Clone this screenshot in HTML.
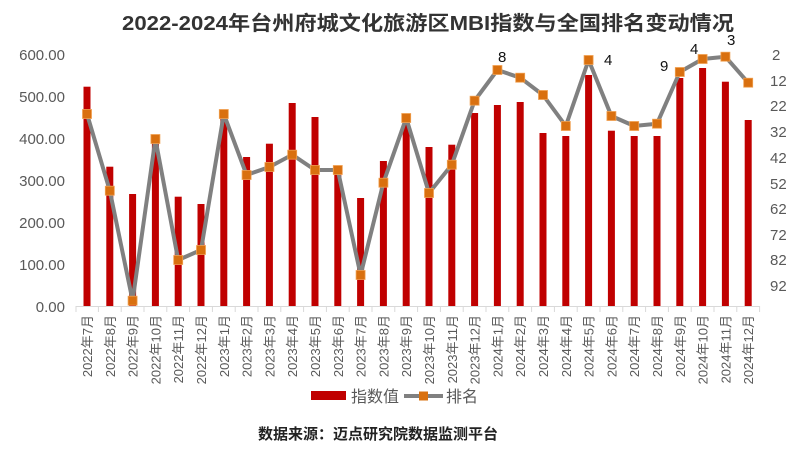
<!DOCTYPE html>
<html><head><meta charset="utf-8"><style>
body{margin:0;background:#fff}
svg{display:block;font-family:"Liberation Sans","Noto Sans CJK SC",sans-serif}
</style></head><body>
<svg width="800" height="452" viewBox="0 0 800 452">
<rect width="800" height="452" fill="#fff"/>
<text x="428" y="30" text-anchor="middle" font-size="20" font-weight="bold" fill="#333" textLength="612" lengthAdjust="spacingAndGlyphs">2022-2024年台州府城文化旅游区MBI指数与全国排名变动情况</text>
<g font-size="15" fill="#595959" text-anchor="end">
<text x="65" y="60">600.00</text><text x="65" y="102">500.00</text><text x="65" y="144">400.00</text><text x="65" y="186">300.00</text><text x="65" y="228">200.00</text><text x="65" y="270">100.00</text><text x="65" y="312">0.00</text>
</g>
<g font-size="15" fill="#595959">
<text x="772" y="60">2</text><text x="770" y="86">12</text><text x="770" y="111">22</text><text x="770" y="137">32</text><text x="770" y="163">42</text><text x="770" y="189">52</text><text x="770" y="214">62</text><text x="770" y="240">72</text><text x="770" y="265">82</text><text x="770" y="291">92</text>
</g>
<g fill="#C00000">
<rect x="83.5" y="86.7" width="7" height="219.3"/><rect x="106.3" y="166.7" width="7" height="139.3"/><rect x="129.1" y="194" width="7" height="112"/><rect x="151.9" y="140" width="7" height="166"/><rect x="174.7" y="196.7" width="7" height="109.3"/><rect x="197.5" y="204" width="7" height="102"/><rect x="220.3" y="112" width="7" height="194"/><rect x="243.1" y="157" width="7" height="149"/><rect x="265.9" y="143.7" width="7" height="162.3"/><rect x="288.7" y="103" width="7" height="203"/><rect x="311.5" y="117" width="7" height="189"/><rect x="334.3" y="170" width="7" height="136"/><rect x="357.1" y="198" width="7" height="108"/><rect x="379.9" y="161" width="7" height="145"/><rect x="402.7" y="118" width="7" height="188"/><rect x="425.5" y="147" width="7" height="159"/><rect x="448.3" y="144.7" width="7" height="161.3"/><rect x="471.1" y="113" width="7" height="193"/><rect x="493.9" y="105" width="7" height="201"/><rect x="516.7" y="102" width="7" height="204"/><rect x="539.5" y="133" width="7" height="173"/><rect x="562.3" y="136" width="7" height="170"/><rect x="585.1" y="75" width="7" height="231"/><rect x="607.9" y="130.7" width="7" height="175.3"/><rect x="630.7" y="136" width="7" height="170"/><rect x="653.5" y="136" width="7" height="170"/><rect x="676.3" y="78" width="7" height="228"/><rect x="699.1" y="68" width="7" height="238"/><rect x="721.9" y="81.7" width="7" height="224.3"/><rect x="744.7" y="120" width="7" height="186"/>
</g>
<line x1="76" y1="306.5" x2="760" y2="306.5" stroke="#d9d9d9" stroke-width="1"/>
<g stroke="#d9d9d9" stroke-width="1">
<line x1="76" y1="306" x2="76" y2="312"/><line x1="98.4" y1="306" x2="98.4" y2="312"/><line x1="121.2" y1="306" x2="121.2" y2="312"/><line x1="144" y1="306" x2="144" y2="312"/><line x1="166.8" y1="306" x2="166.8" y2="312"/><line x1="189.6" y1="306" x2="189.6" y2="312"/><line x1="212.4" y1="306" x2="212.4" y2="312"/><line x1="235.2" y1="306" x2="235.2" y2="312"/><line x1="258" y1="306" x2="258" y2="312"/><line x1="280.8" y1="306" x2="280.8" y2="312"/><line x1="303.6" y1="306" x2="303.6" y2="312"/><line x1="326.4" y1="306" x2="326.4" y2="312"/><line x1="349.2" y1="306" x2="349.2" y2="312"/><line x1="372" y1="306" x2="372" y2="312"/><line x1="394.8" y1="306" x2="394.8" y2="312"/><line x1="417.6" y1="306" x2="417.6" y2="312"/><line x1="440.4" y1="306" x2="440.4" y2="312"/><line x1="463.2" y1="306" x2="463.2" y2="312"/><line x1="486" y1="306" x2="486" y2="312"/><line x1="508.8" y1="306" x2="508.8" y2="312"/><line x1="531.6" y1="306" x2="531.6" y2="312"/><line x1="554.4" y1="306" x2="554.4" y2="312"/><line x1="577.2" y1="306" x2="577.2" y2="312"/><line x1="600" y1="306" x2="600" y2="312"/><line x1="622.8" y1="306" x2="622.8" y2="312"/><line x1="645.6" y1="306" x2="645.6" y2="312"/><line x1="668.4" y1="306" x2="668.4" y2="312"/><line x1="691.2" y1="306" x2="691.2" y2="312"/><line x1="714" y1="306" x2="714" y2="312"/><line x1="736.8" y1="306" x2="736.8" y2="312"/><line x1="759.6" y1="306" x2="759.6" y2="312"/>
</g>
<polyline fill="none" stroke="#808080" stroke-width="4" stroke-linejoin="round" points="87,114 109.8,190.7 132.6,300.7 155.4,139 178.2,260 201,250 223.8,114 246.6,175 269.4,167 292.2,154.7 315,170 337.8,170 360.6,275 383.4,182.7 406.2,118 429,193 451.8,164.7 474.6,100.7 497.4,70 520.2,77.7 543,95 565.8,126 588.6,60 611.4,116 634.2,126 657,123.7 679.8,72 702.6,59 725.4,56.7 748.2,82.7"/>
<g fill="#D9700F" stroke="#F0A050" stroke-width="0.8">
<rect x="82.5" y="109.5" width="9" height="9"/><rect x="105.3" y="186.2" width="9" height="9"/><rect x="128.1" y="296.2" width="9" height="9"/><rect x="150.9" y="134.5" width="9" height="9"/><rect x="173.7" y="255.5" width="9" height="9"/><rect x="196.5" y="245.5" width="9" height="9"/><rect x="219.3" y="109.5" width="9" height="9"/><rect x="242.1" y="170.5" width="9" height="9"/><rect x="264.9" y="162.5" width="9" height="9"/><rect x="287.7" y="150.2" width="9" height="9"/><rect x="310.5" y="165.5" width="9" height="9"/><rect x="333.3" y="165.5" width="9" height="9"/><rect x="356.1" y="270.5" width="9" height="9"/><rect x="378.9" y="178.2" width="9" height="9"/><rect x="401.7" y="113.5" width="9" height="9"/><rect x="424.5" y="188.5" width="9" height="9"/><rect x="447.3" y="160.2" width="9" height="9"/><rect x="470.1" y="96.2" width="9" height="9"/><rect x="492.9" y="65.5" width="9" height="9"/><rect x="515.7" y="73.2" width="9" height="9"/><rect x="538.5" y="90.5" width="9" height="9"/><rect x="561.3" y="121.5" width="9" height="9"/><rect x="584.1" y="55.5" width="9" height="9"/><rect x="606.9" y="111.5" width="9" height="9"/><rect x="629.7" y="121.5" width="9" height="9"/><rect x="652.5" y="119.2" width="9" height="9"/><rect x="675.3" y="67.5" width="9" height="9"/><rect x="698.1" y="54.5" width="9" height="9"/><rect x="720.9" y="52.2" width="9" height="9"/><rect x="743.7" y="78.2" width="9" height="9"/>
</g>
<g font-size="15" fill="#111">
<text x="498" y="62">8</text><text x="604" y="65">4</text><text x="660" y="71">9</text><text x="690" y="54">4</text><text x="727" y="45">3</text>
</g>
<g font-size="13" fill="#595959" text-anchor="end">
<text transform="translate(92,315) rotate(-90)">2022年7月</text><text transform="translate(114.8,315) rotate(-90)">2022年8月</text><text transform="translate(137.6,315) rotate(-90)">2022年9月</text><text transform="translate(160.4,315) rotate(-90)">2022年10月</text><text transform="translate(183.2,315) rotate(-90)">2022年11月</text><text transform="translate(206,315) rotate(-90)">2022年12月</text><text transform="translate(228.8,315) rotate(-90)">2023年1月</text><text transform="translate(251.6,315) rotate(-90)">2023年2月</text><text transform="translate(274.4,315) rotate(-90)">2023年3月</text><text transform="translate(297.2,315) rotate(-90)">2023年4月</text><text transform="translate(320,315) rotate(-90)">2023年5月</text><text transform="translate(342.8,315) rotate(-90)">2023年6月</text><text transform="translate(365.6,315) rotate(-90)">2023年7月</text><text transform="translate(388.4,315) rotate(-90)">2023年8月</text><text transform="translate(411.2,315) rotate(-90)">2023年9月</text><text transform="translate(434,315) rotate(-90)">2023年10月</text><text transform="translate(456.8,315) rotate(-90)">2023年11月</text><text transform="translate(479.6,315) rotate(-90)">2023年12月</text><text transform="translate(502.4,315) rotate(-90)">2024年1月</text><text transform="translate(525.2,315) rotate(-90)">2024年2月</text><text transform="translate(548,315) rotate(-90)">2024年3月</text><text transform="translate(570.8,315) rotate(-90)">2024年4月</text><text transform="translate(593.6,315) rotate(-90)">2024年5月</text><text transform="translate(616.4,315) rotate(-90)">2024年6月</text><text transform="translate(639.2,315) rotate(-90)">2024年7月</text><text transform="translate(662,315) rotate(-90)">2024年8月</text><text transform="translate(684.8,315) rotate(-90)">2024年9月</text><text transform="translate(707.6,315) rotate(-90)">2024年10月</text><text transform="translate(730.4,315) rotate(-90)">2024年11月</text><text transform="translate(753.2,315) rotate(-90)">2024年12月</text>
</g>
<rect x="311" y="391" width="35" height="9" fill="#C00000"/>
<text x="351" y="402" font-size="16" fill="#595959">指数值</text>
<line x1="404" y1="396" x2="443" y2="396" stroke="#808080" stroke-width="4"/>
<rect x="419" y="391.5" width="9" height="9" fill="#D9700F"/>
<text x="446" y="402" font-size="16" fill="#595959">排名</text>
<text x="378" y="439" text-anchor="middle" font-size="15" font-weight="bold" fill="#222">数据来源：迈点研究院数据监测平台</text>
</svg>
</body></html>
